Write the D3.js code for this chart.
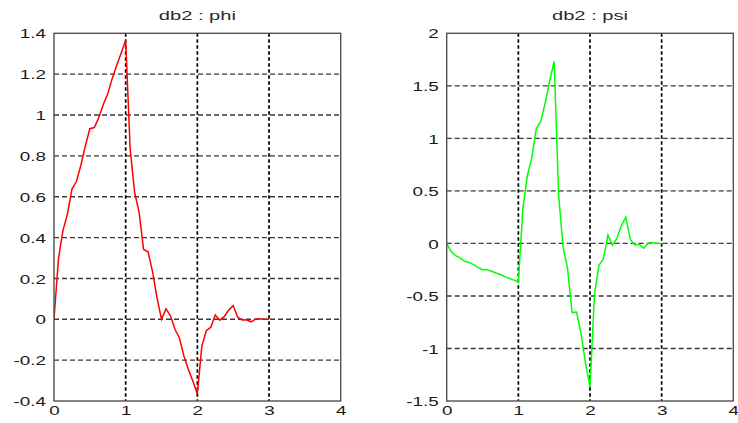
<!DOCTYPE html>
<html>
<head>
<meta charset="utf-8">
<script src="https://cdn.jsdelivr.net/npm/d3@7/dist/d3.min.js"></script>
<style>
  html, body { margin: 0; padding: 0; background: #fff; }
  svg { display: block; }
  text { font-family: "Liberation Sans", Arial, sans-serif; fill: #1a1a1a; }
</style>
</head>
<body>
<svg id="chart" width="738" height="423"></svg>
<script>
// Daubechies db2 scaling function (phi) and wavelet (psi), sampled on [0, 3]
const xs = [0, 0.0625, 0.125, 0.1875, 0.25, 0.3125, 0.375, 0.4375, 0.5, 0.5625, 0.625, 0.6875,
  0.75, 0.8125, 0.875, 0.9375, 1, 1.0625, 1.125, 1.1875, 1.25, 1.3125, 1.375, 1.4375,
  1.5, 1.5625, 1.625, 1.6875, 1.75, 1.8125, 1.875, 1.9375, 2, 2.0625, 2.125, 2.1875,
  2.25, 2.3125, 2.375, 2.4375, 2.5, 2.5625, 2.625, 2.6875, 2.75, 2.8125, 2.875, 2.9375, 3];

const phiValues = [0, 0.2973, 0.4353, 0.5149, 0.6373, 0.6742, 0.7539, 0.8492, 0.9330, 0.9387,
  0.9871, 1.0512, 1.1038, 1.1792, 1.2433, 1.3031, 1.3660, 0.8340, 0.6205, 0.5237, 0.3415,
  0.3301, 0.2333, 0.1052, 0, 0.0511, 0.0167, -0.0488, -0.0915, -0.1799, -0.2455, -0.3027,
  -0.3660, -0.1312, -0.0558, -0.0386, 0.0212, -0.0043, 0.0129, 0.0456, 0.0670, 0.0102,
  -0.0039, -0.0024, -0.0123, 0.0007, 0.0022, -0.0004, 0];

const psiValues = [0, -0.0797, -0.1166, -0.1380, -0.1708, -0.1807, -0.2020, -0.2275, -0.2500,
  -0.2515, -0.2645, -0.2817, -0.2958, -0.3160, -0.3331, -0.3492, -0.3660, 0.3284, 0.6417,
  0.8156, 1.0915, 1.1632, 1.3370, 1.5482, 1.7321, 0.4545, -0.0380, -0.2431, -0.6585,
  -0.6532, -0.8583, -1.1403, -1.3660, -0.4898, -0.2081, -0.1441, 0.0792, -0.0160, 0.0480,
  0.1703, 0.2500, 0.0381, -0.0145, -0.0088, -0.0458, 0.0027, 0.0084, -0.0015, 0];

const xTicks = [0, 1, 2, 3, 4];
const xTickLabels = ["0", "1", "2", "3", "4"];
const phiTicks = [-0.4, -0.2, 0, 0.2, 0.4, 0.6, 0.8, 1, 1.2, 1.4];
const phiTickLabels = ["-0.4", "-0.2", "0", "0.2", "0.4", "0.6", "0.8", "1", "1.2", "1.4"];
const psiTicks = [-1.5, -1, -0.5, 0, 0.5, 1, 1.5, 2];
const psiTickLabels = ["-1.5", "-1", "-0.5", "0", "0.5", "1", "1.5", "2"];

const panels = [
  { title: "db2 : phi", values: phiValues, yDomain: [-0.4, 1.4], yTicks: phiTicks,
    yLabels: phiTickLabels, color: "#ff0000", left: 54, right: 340.7 },
  { title: "db2 : psi", values: psiValues, yDomain: [-1.5, 2], yTicks: psiTicks,
    yLabels: psiTickLabels, color: "#00ff00", left: 446.7, right: 733.3 }
];

const plotTop = 33.3, plotBottom = 401;
const labelStretch = 1.45;   // tick labels are drawn horizontally widened
const titleStretch = 1.55;
const fontSize = "13px";
const svg = d3.select("#chart");

panels.forEach((p, i) => {
  const x = d3.scaleLinear().domain([0, 4]).range([p.left, p.right]);
  const y = d3.scaleLinear().domain(p.yDomain).range([plotBottom, plotTop]);
  const g = svg.append("g");

  // clip for the curve
  g.append("clipPath").attr("id", "clip" + i)
    .append("rect").attr("x", p.left).attr("y", plotTop)
    .attr("width", p.right - p.left).attr("height", plotBottom - plotTop);

  // horizontal grid
  g.append("g").selectAll("line")
    .data(p.yTicks.filter(v => v > p.yDomain[0] && v < p.yDomain[1]))
    .join("line")
    .attr("x1", p.left).attr("x2", p.right)
    .attr("y1", d => y(d)).attr("y2", d => y(d))
    .attr("stroke", "#3a3a3a").attr("stroke-width", 1.4)
    .attr("stroke-dasharray", "5,3");

  // vertical grid
  g.append("g").selectAll("line")
    .data(xTicks.filter(v => v > 0 && v < 4))
    .join("line")
    .attr("x1", d => x(d)).attr("x2", d => x(d))
    .attr("y1", plotTop).attr("y2", plotBottom)
    .attr("stroke", "#000").attr("stroke-width", 1.7)
    .attr("stroke-dasharray", "3.5,2.5");

  // curve
  const line = d3.line().x((d, k) => x(xs[k])).y(d => y(d));
  g.append("path")
    .datum(p.values)
    .attr("clip-path", "url(#clip" + i + ")")
    .attr("fill", "none")
    .attr("stroke", p.color)
    .attr("stroke-width", 1.5)
    .attr("stroke-linejoin", "miter")
    .attr("d", line);

  // axes box
  g.append("rect")
    .attr("x", p.left).attr("y", plotTop)
    .attr("width", p.right - p.left).attr("height", plotBottom - plotTop)
    .attr("fill", "none").attr("stroke", "#505050").attr("stroke-width", 1.4);

  // y axis labels
  const yAxis = d3.axisLeft(y).tickValues(p.yTicks)
    .tickFormat((d, k) => p.yLabels[k]).tickSize(0).tickPadding(0);
  const ya = g.append("g").attr("transform", `translate(${p.left - 8},0)`).call(yAxis);
  ya.select(".domain").remove();
  ya.selectAll("text")
    .attr("x", 0).attr("dy", "0.36em")
    .attr("transform", `scale(${labelStretch},1)`)
    .style("font-size", fontSize).style("font-family", "Liberation Sans, Arial, sans-serif")
    .style("fill", "#1a1a1a");

  // x axis labels
  const xAxis = d3.axisBottom(x).tickValues(xTicks)
    .tickFormat((d, k) => xTickLabels[k]).tickSize(0).tickPadding(0);
  const xa = g.append("g").attr("transform", `translate(0,${plotBottom + 5})`).call(xAxis);
  xa.select(".domain").remove();
  xa.selectAll("text")
    .attr("y", 0).attr("dy", "0.72em")
    .attr("transform", `scale(${labelStretch},1)`)
    .style("font-size", fontSize).style("font-family", "Liberation Sans, Arial, sans-serif")
    .style("fill", "#1a1a1a");

  // title
  const cx = (p.left + p.right) / 2;
  g.append("text")
    .attr("transform", `translate(${cx},19.5) scale(${titleStretch},1)`)
    .attr("text-anchor", "middle")
    .style("font-size", fontSize)
    .style("fill", "#2a2a2a")
    .text(p.title);
});
</script>
</body>
</html>
